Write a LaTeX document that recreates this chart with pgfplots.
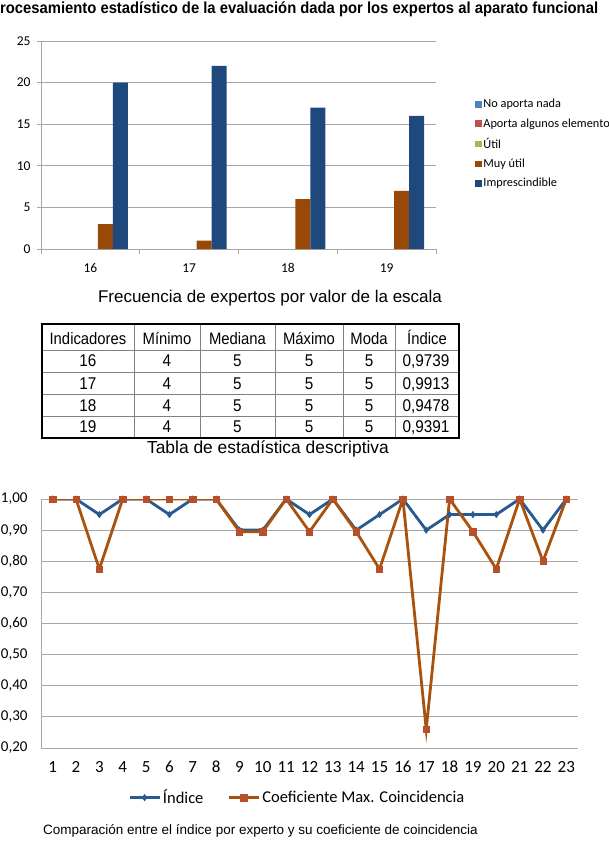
\documentclass[border=0pt]{standalone}
\usepackage{pgfplots}
\pgfplotsset{compat=1.18}
\usepackage{fontspec}
\setmainfont{Liberation Sans}
\newfontfamily\narrowfont[FakeStretch=0.90]{Liberation Sans}
\newfontfamily\narrowbold[FakeStretch=0.925]{Liberation Sans}
\newfontfamily\calfont{Carlito}
\definecolor{cNo}{HTML}{4F81BD}
\definecolor{cAp}{HTML}{C0504D}
\definecolor{cUt}{HTML}{9BBB59}
\definecolor{cMu}{HTML}{984807}
\definecolor{cIm}{HTML}{1F497D}
\definecolor{lBlue}{HTML}{285A92}
\definecolor{lOrange}{HTML}{A8520E}
\definecolor{mOrange}{HTML}{B5502B}
\definecolor{gridc}{HTML}{A6A6A6}
\begin{document}
\begin{tikzpicture}
\useasboundingbox (0pt,0pt) rectangle (609pt,-848pt);
% title
\node[anchor=base west, inner sep=0pt] at (0pt,-14pt) {\narrowbold\bfseries\fontsize{16}{16}\selectfont rocesamiento estadístico de la evaluación dada por los expertos al aparato funcional};
% bar chart
\begin{axis}[
  at={(41pt,-249pt)}, anchor=south west, scale only axis,
  width=395pt, height=208pt,
  ymin=0, ymax=25, xmin=-0.5, xmax=3.5,
  ybar=0pt, bar width=15pt,
  xtick={0,1,2,3}, xticklabels={16,17,18,19},
  ytick={0,5,10,15,20,25},
  axis x line*=bottom, axis y line*=left,
  axis line style={gridc, line width=0.8pt},
  ymajorgrids, grid style={gridc, line width=0.8pt},
  x tick style={draw=none},
  y tick style={gridc, line width=0.8pt},
  tick align=outside, major tick length=4pt,
  extra x ticks={-0.5,0.5,1.5,2.5,3.5}, extra x tick labels={},
  extra x tick style={major tick length=5pt, x tick style={draw=gridc, line width=0.8pt}, grid=none},
  tick label style={font=\calfont\fontsize{13.5}{13.5}\selectfont},
  /pgf/number format/assume math mode=true,
  xticklabel style={anchor=base, yshift=-19pt},
  yticklabel style={xshift=-3pt},
  legend style={at={(1.099,0.728)}, anchor=north west, draw=none, fill=none, inner sep=0pt,
    font=\calfont\fontsize{12.3}{12.3}\selectfont, row sep=6.3pt, nodes={inner sep=1.5pt}},
  legend cell align=left,
  legend image code/.code={\fill[#1] (0pt,-3.3pt) rectangle (6.6pt,3.3pt);},
]
\addplot[fill=cNo, draw=none] coordinates {(0,0) (1,0) (2,0) (3,0)};
\addplot[fill=cAp, draw=none] coordinates {(0,0) (1,0) (2,0) (3,0)};
\addplot[fill=cUt, draw=none] coordinates {(0,0) (1,0) (2,0) (3,0)};
\addplot[fill=cMu, draw=none] coordinates {(0,3) (1,1) (2,6) (3,7)};
\addplot[fill=cIm, draw=none] coordinates {(0,20) (1,22) (2,17) (3,16)};
\legend{No aporta nada, Aporta algunos elementos, Útil, Muy útil, Imprescindible}
\end{axis}
\node[anchor=base, inner sep=0pt] at (270pt,-302pt) {\fontsize{17}{17}\selectfont Frecuencia de expertos por valor de la escala};
% table
\foreach \y in {350,372,394,416} \draw[gray, line width=0.8pt] (42pt,-\y pt) -- (459pt,-\y pt);
\foreach \x in {134,200,275,343,395} \draw[gray, line width=0.8pt] (\x pt,-324pt) -- (\x pt,-438pt);
\draw[black, line width=2pt] (42pt,-324pt) rectangle (459pt,-438pt);
\foreach \t [count=\i] in {Indicadores,Mínimo,Mediana,Máximo,Moda,Índice}{
  \pgfmathsetmacro{\cx}{{88,167,237.5,309,369,427}[\i-1]}
  \node[anchor=base, inner sep=0pt] at (\cx pt,-344pt) {\narrowfont\fontsize{16.5}{16.5}\selectfont \t};
}
\foreach \a/\b/\c/\d/\e/\f/\yb in {16/4/5/5/5/{0,9739}/366.7, 17/4/5/5/5/{0,9913}/389, 18/4/5/5/5/{0,9478}/411, 19/4/5/5/5/{0,9391}/432.7}{
  \node[anchor=base, inner sep=0pt] at (88pt,-\yb pt) {\narrowfont\fontsize{17}{17}\selectfont \a};
  \node[anchor=base, inner sep=0pt] at (167pt,-\yb pt) {\narrowfont\fontsize{17}{17}\selectfont \b};
  \node[anchor=base, inner sep=0pt] at (237.5pt,-\yb pt) {\narrowfont\fontsize{17}{17}\selectfont \c};
  \node[anchor=base, inner sep=0pt] at (309pt,-\yb pt) {\narrowfont\fontsize{17}{17}\selectfont \d};
  \node[anchor=base, inner sep=0pt] at (369pt,-\yb pt) {\narrowfont\fontsize{17}{17}\selectfont \e};
  \node[anchor=base, inner sep=0pt] at (426pt,-\yb pt) {\narrowfont\fontsize{17}{17}\selectfont \f};
}
\node[anchor=base, inner sep=0pt] at (268pt,-453pt) {\fontsize{17.4}{17.4}\selectfont Tabla de estadística descriptiva};
% line chart
\begin{axis}[
  at={(41pt,-748pt)}, anchor=south west, scale only axis,
  width=537pt, height=249pt,
  xmin=0.5, xmax=23.5, ymin=0.2, ymax=1.0,
  xtick={1,2,...,23},
  ytick={0.2,0.3,0.4,0.5,0.6,0.7,0.8,0.9,1.0},
  axis x line*=bottom, axis y line*=left,
  axis line style={gridc, line width=0.8pt},
  ymajorgrids, grid style={gridc, line width=0.8pt},
  major tick length=0pt,
  tick label style={font=\calfont\fontsize{17}{17}\selectfont},
  yticklabel style={font=\calfont\fontsize{15}{15}\selectfont, xshift=-10pt},
  xticklabel style={anchor=base, yshift=-24pt},
  /pgf/number format/assume math mode=true,
  y tick label style={/pgf/number format/.cd, fixed, fixed zerofill, precision=2, use comma},
  legend style={at={(0.162,-0.16)}, anchor=north west, draw=none, fill=none, inner sep=0pt,
    font=\calfont\fontsize{16.5}{16.5}\selectfont, /tikz/every even column/.append style={column sep=22pt}},
  legend columns=2,
  legend image code/.code={\draw[mark repeat=2,mark phase=2,#1] plot coordinates {(0pt,0pt) (15pt,0pt) (30pt,0pt)};},
]
\addplot[lBlue, line width=2.8pt, mark=diamond*, mark size=3.2pt, mark options={fill=lBlue, line width=0.5pt}] coordinates {
(1,1.00) (2,1.00) (3,0.95) (4,1.00) (5,1.00) (6,0.95) (7,1.00) (8,1.00) (9,0.90) (10,0.90) (11,1.00) (12,0.95) (13,1.00) (14,0.90) (15,0.95) (16,1.00) (17,0.90) (18,0.95) (19,0.95) (20,0.95) (21,1.00) (22,0.90) (23,1.00)};
\addplot[lOrange, line width=2.8pt, mark=square*, mark size=3.2pt, mark options={fill=mOrange, draw=mOrange, line width=0.5pt}] coordinates {
(1,1.00) (2,1.00) (3,0.775) (4,1.00) (5,1.00) (6,1.00) (7,1.00) (8,1.00) (9,0.895) (10,0.895) (11,1.00) (12,0.895) (13,1.00) (14,0.895) (15,0.775) (16,1.00) (17,0.26) (18,1.00) (19,0.895) (20,0.775) (21,1.00) (22,0.80) (23,1.00)};
\legend{Índice, Coeficiente Max. Coincidencia}
\end{axis}
\node[anchor=base west, inner sep=0pt] at (43pt,-834pt) {\fontsize{13.5}{13.5}\selectfont Comparación entre el índice por experto y su coeficiente de coincidencia};
\end{tikzpicture}
\end{document}
